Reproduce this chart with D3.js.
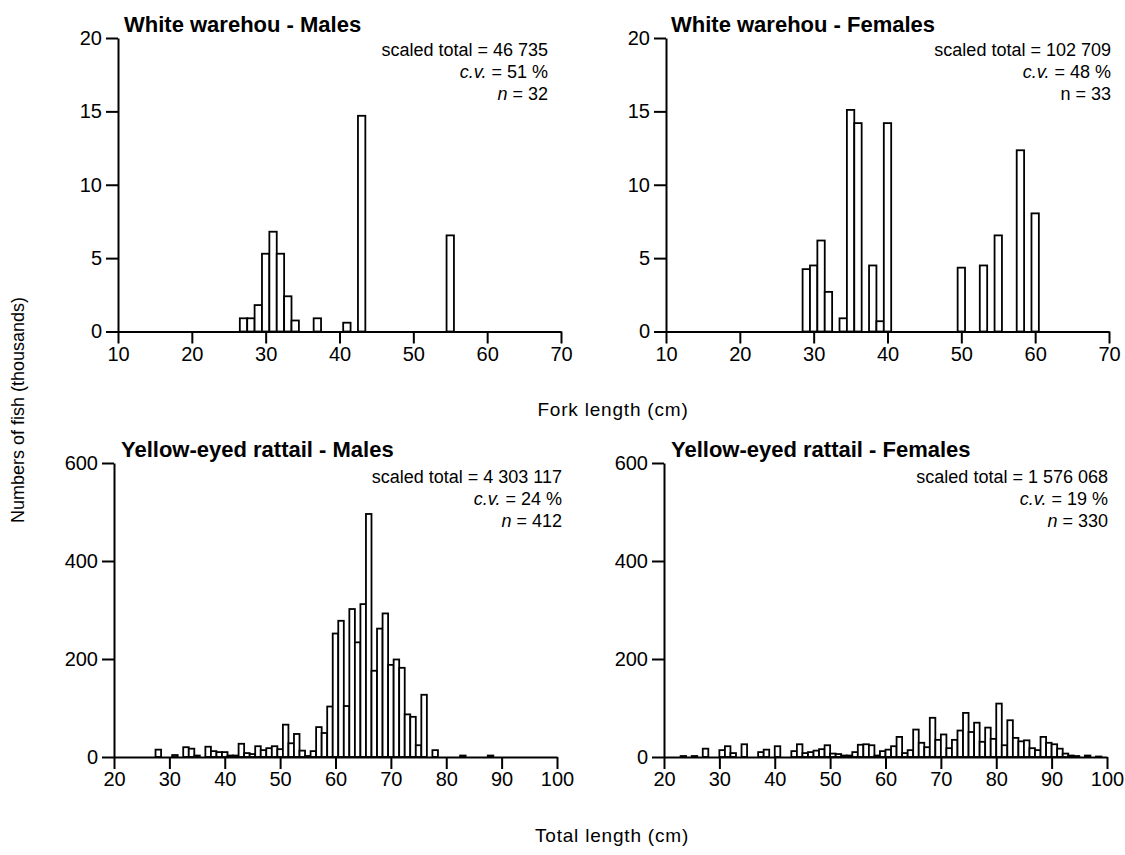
<!DOCTYPE html>
<html><head><meta charset="utf-8">
<script src="https://cdn.jsdelivr.net/npm/d3@7"></script>
<style>
body{margin:0;background:#fff}
text{font-family:"Liberation Sans",Arial,Helvetica,sans-serif;fill:#000}
</style>
</head><body>
<svg id="c" width="1125" height="855"></svg>
<script>
// ---- data (bin centre in cm, numbers in thousands) ----
const wwMaleLen = [27,28,29,30,31,32,33,34,37,41,43,55];
const wwMaleNum = [0.9,0.9,1.8,5.3,6.8,5.3,2.4,0.75,0.9,0.6,14.7,6.55];

const wwFemLen = [29,30,31,32,34,35,36,38,39,40,50,53,55,58,60];
const wwFemNum = [4.25,4.5,6.2,2.7,0.9,15.1,14.2,4.5,0.7,14.2,4.35,4.5,6.55,12.35,8.05];

const yerMaleLen = [28,31,33,34,35,37,38,39,40,41,42,43,44,45,46,47,48,49,50,51,52,53,54,55,56,57,58,59,60,61,62,63,64,65,66,67,68,69,70,71,72,73,74,75,76,78,83,88];
const yerMaleNum = [15,4,20,17,3,21,12,10,10,3,3,27,8,6,22,14,18,22,16,66,28,47,13,2,12,61,49,103,252,278,104,302,234,312,496,176,262,293,188,199,182,87,82,24,127,14,3,3];

const yerFemLen = [23.5,25.5,27.5,30.5,31.5,32.5,34.5,37.5,38.5,40.5,43.5,44.5,45.5,46.5,47.5,48.5,49.5,50.5,51.5,52.5,53.5,54.5,55.5,56.5,57.5,58.5,59.5,60.5,61.5,62.5,63.5,64.5,65.5,66.5,67.5,68.5,69.5,70.5,71.5,72.5,73.5,74.5,75.5,76.5,77.5,78.5,79.5,80.5,81.5,82.5,83.5,84.5,85.5,86.5,87.5,88.5,89.5,90.5,91.5,92.5,93.5,94.5,96.5,98.5];
const yerFemNum = [2,2,17,14,22,8,26,10,15,22,12,26,8,10,13,16,24,7,6,3,3,10,25,26,24,3,12,15,22,41,8,14,56,29,20,80,35,46,18,35,54,90,51,70,31,60,37,109,24,75,39,32,34,18,14,41,29,26,17,7,3,2,3,1];

const forkTicks = [10,20,30,40,50,60,70];
const totalTicks = [20,30,40,50,60,70,80,90,100];
const wwYTicks = [0,5,10,15,20];
const yerYTicks = [0,200,400,600];

const titles = ["White warehou - Males","White warehou - Females","Yellow-eyed rattail - Males","Yellow-eyed rattail - Females"];
const totals = ["46 735","102 709","4 303 117","1 576 068"];
const cvs = ["51 %","48 %","24 %","19 %"];
const ns = ["32","33","412","330"];

// ---- layout ----
const panels = [
  {len:wwMaleLen, num:wwMaleNum, xDom:[10,70], xR:[118,561], yDom:[0,20], yR:[331.5,38], xT:forkTicks, yT:wwYTicks, tx:124, ty:32, ax:548, ay:56, nIt:true},
  {len:wwFemLen, num:wwFemNum, xDom:[10,70], xR:[666,1109], yDom:[0,20], yR:[331.5,38], xT:forkTicks, yT:wwYTicks, tx:671, ty:32, ax:1111, ay:56, nIt:false},
  {len:yerMaleLen, num:yerMaleNum, xDom:[20,100], xR:[114,557], yDom:[0,600], yR:[757,463], xT:totalTicks, yT:yerYTicks, tx:121, ty:457, ax:562, ay:483, nIt:true},
  {len:yerFemLen, num:yerFemNum, xDom:[20,100], xR:[664,1107], yDom:[0,600], yR:[757,463], xT:totalTicks, yT:yerYTicks, tx:671, ty:457, ax:1108, ay:483, nIt:true}
];

const svg = d3.select("#c");

panels.forEach((p,i)=>{
  const x = d3.scaleLinear().domain(p.xDom).range(p.xR);
  const y = d3.scaleLinear().domain(p.yDom).range(p.yR);
  const g = svg.append("g");
  const data = p.len.map((l,k)=>({l:l, v:p.num[k]}));

  g.selectAll("rect.bar").data(data).join("rect")
    .attr("class","bar")
    .attr("x", d=>x(d.l-0.5))
    .attr("width", d=>x(d.l+0.5)-x(d.l-0.5))
    .attr("y", d=>y(d.v))
    .attr("height", d=>y(0)-y(d.v))
    .attr("fill","#fff").attr("stroke","#000").attr("stroke-width",1.8);

  const xa = g.append("g").attr("transform",`translate(0,${y(0)})`)
    .call(d3.axisBottom(x).tickValues(p.xT).tickFormat(d3.format("d")).tickSize(12).tickSizeOuter(0).tickPadding(3));
  const ya = g.append("g").attr("transform",`translate(${x(p.xDom[0])},0)`)
    .call(d3.axisLeft(y).tickValues(p.yT).tickFormat(d3.format("d")).tickSize(12).tickSizeOuter(0).tickPadding(4));
  [xa,ya].forEach(a=>{
    a.select(".domain").attr("stroke","#000").attr("stroke-width",2);
    a.selectAll(".tick line").attr("stroke","#000").attr("stroke-width",2);
    a.selectAll(".tick text").attr("font-size",20).attr("fill","#000")
      .style("font-family",'"Liberation Sans",Arial,sans-serif');
  });

  g.append("text").attr("x",p.tx).attr("y",p.ty)
    .attr("font-size",22).attr("font-weight","bold").text(titles[i]);

  const ann = g.append("g").attr("font-size",18).attr("text-anchor","end");
  ann.append("text").attr("x",p.ax).attr("y",p.ay).text("scaled total = "+totals[i]);
  const t2 = ann.append("text").attr("x",p.ax).attr("y",p.ay+22);
  t2.append("tspan").attr("font-style","italic").text("c.v.");
  t2.append("tspan").text(" = "+cvs[i]);
  const t3 = ann.append("text").attr("x",p.ax).attr("y",p.ay+44);
  t3.append("tspan").attr("font-style",p.nIt?"italic":"normal").text("n");
  t3.append("tspan").text(" = "+ns[i]);
});

svg.append("text").attr("x",613).attr("y",416).attr("text-anchor","middle")
  .attr("font-size",19).attr("letter-spacing",0.8).text("Fork length (cm)");
svg.append("text").attr("x",612).attr("y",842).attr("text-anchor","middle")
  .attr("font-size",19).attr("letter-spacing",0.8).text("Total length (cm)");
svg.append("text").attr("transform","translate(24,410) rotate(-90)").attr("text-anchor","middle")
  .attr("font-size",18).text("Numbers of fish (thousands)");
</script>
</body></html>
